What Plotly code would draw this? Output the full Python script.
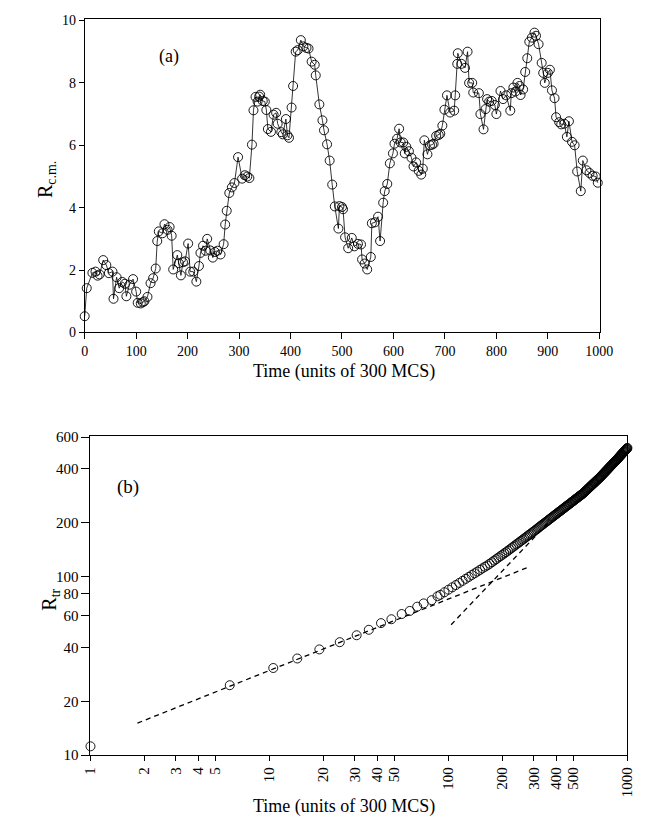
import plotly.graph_objects as go

# ---------------- Panel (a): centre-of-mass distance vs time ----------------
ta = [0, 4, 15, 21, 25, 29, 36, 42, 47, 54,
      56, 62, 67, 73, 78, 81, 87, 94, 100, 103,
      109, 113, 116, 122, 128, 133, 138, 141, 144, 151,
      155, 161, 165, 169, 172, 180, 183, 187, 191, 195,
      201, 205, 211, 217, 222, 225, 230, 235, 238, 244,
      249, 253, 258, 264, 270, 273, 276, 281, 286, 291,
      298, 306, 311, 316, 320, 325, 328, 332, 336, 339,
      341, 346, 350, 353, 356, 362, 367, 372, 375, 382,
      385, 391, 394, 397, 402, 405, 410, 414, 420, 425,
      431, 435, 441, 447, 449, 456, 462, 465, 471, 476,
      481, 486, 493, 495, 500, 502, 506, 512, 519, 524,
      531, 537, 539, 544, 549, 556, 558, 564, 570, 574,
      580, 583, 588, 593, 599, 602, 607, 611, 614, 619,
      622, 625, 630, 635, 639, 644, 649, 654, 657, 660,
      666, 671, 675, 678, 683, 688, 691, 695, 699, 704,
      710, 718, 720, 724, 725, 732, 739, 744, 747, 753,
      755, 766, 769, 775, 779, 782, 786, 791, 797, 800,
      808, 813, 819, 827, 829, 833, 837, 841, 845, 847,
      852, 856, 860, 864, 869, 874, 877, 882, 888, 891,
      894, 900, 904, 908, 913, 916, 922, 926, 932, 937,
      941, 947, 952, 957, 964, 968, 975, 981, 987, 993,
      997]
ra = [0.52, 1.42, 1.91, 1.95, 1.82, 1.86, 2.32, 2.16, 1.90, 1.95,
      1.08, 1.77, 1.42, 1.62, 1.56, 1.16, 1.53, 1.71, 1.31, 0.95,
      0.93, 0.97, 1.00, 1.14, 1.58, 1.74, 2.05, 2.93, 3.24, 3.18,
      3.47, 3.29, 3.38, 3.10, 2.02, 2.48, 2.22, 1.83, 2.25, 2.28,
      2.85, 1.95, 1.95, 1.63, 2.13, 2.55, 2.78, 2.62, 3.00, 2.63,
      2.40, 2.58, 2.62, 2.50, 2.83, 3.46, 3.90, 4.47, 4.65, 4.79,
      5.62, 4.93, 5.04, 5.00, 4.95, 6.02, 7.12, 7.55, 7.40, 7.56,
      7.62, 7.42, 7.40, 7.13, 6.52, 6.43, 6.98, 7.04, 6.69, 6.42,
      6.35, 6.84, 6.32, 6.24, 7.21, 7.90, 9.00, 9.05, 9.37, 9.17,
      9.12, 9.10, 8.68, 8.58, 8.24, 7.31, 6.80, 6.48, 6.03, 5.51,
      4.74, 4.04, 3.33, 4.05, 4.02, 3.95, 3.05, 2.70, 3.03, 2.76,
      2.84, 2.82, 2.34, 2.21, 2.02, 2.42, 3.50, 3.53, 3.71, 2.93,
      4.16, 4.53, 4.76, 5.42, 5.74, 6.05, 6.21, 6.53, 6.09, 6.09,
      5.74, 5.95, 5.81, 5.60, 5.32, 5.45, 5.18, 5.06, 5.25, 6.16,
      5.71, 6.00, 6.02, 6.05, 6.30, 6.33, 6.37, 6.63, 7.14, 7.60,
      7.05, 7.11, 7.60, 8.61, 8.95, 8.61, 8.48, 9.00, 8.00, 8.00,
      7.69, 7.67, 7.00, 6.51, 7.16, 7.48, 7.40, 7.42, 7.29, 7.00,
      7.74, 7.48, 7.60, 7.11, 7.67, 7.85, 7.72, 8.00, 7.90, 7.61,
      7.79, 8.35, 8.79, 9.32, 9.45, 9.61, 9.51, 9.24, 8.64, 8.32,
      8.00, 8.32, 8.42, 7.76, 7.51, 6.90, 6.74, 6.67, 6.69, 6.27,
      6.77, 6.11, 6.00, 5.16, 4.53, 5.51, 5.20, 5.11, 5.02, 5.00,
      4.80]

xa_ticks = [0, 100, 200, 300, 400, 500, 600, 700, 800, 900, 1000]
ya_ticks = [0, 2, 4, 6, 8, 10]

# ---------------- Panel (b): R_tr vs time (log-log) ----------------
tb_sparse = [1, 6, 10.5, 14.3, 19, 24.7, 30.7, 35.9, 42, 48, 54.8, 60.8,
             66.9, 72.7, 80.6, 86.9]
rb_sparse = [11.2, 24.6, 30.7, 34.7, 39, 42.8, 46.8, 50.2, 54.7, 57.5, 61.5,
             64, 67.6, 70.5, 73.5, 77.3]
tb_dense = list(range(90, 1001, 5))
rb_dense = [78.7, 81.4, 84.1, 86.7, 89.3, 91.8, 94.3, 96.8, 99.2, 101.6,
            103.9, 106.2, 108.5, 110.8, 113.0, 115.0, 117.4, 119.9, 122.3, 124.7,
            127.1, 129.5, 131.8, 134.2, 136.5, 138.9, 141.3, 143.7, 146.1, 148.5,
            150.9, 153.2, 155.5, 157.9, 160.2, 162.5, 164.8, 167.1, 169.4, 171.6,
            173.9, 176.1, 178.3, 180.6, 182.8, 185.3, 187.5, 189.8, 192.0, 194.3,
            196.5, 198.7, 200.9, 203.1, 205.3, 207.5, 209.7, 211.9, 214.1, 216.2,
            218.4, 220.6, 222.7, 224.8, 227.0, 229.1, 231.2, 233.3, 235.4, 237.5,
            239.6, 241.7, 243.8, 245.9, 247.9, 250.0, 252.1, 254.1, 256.2, 258.2,
            260.3, 262.3, 264.4, 266.4, 268.5, 270.5, 272.5, 274.5, 276.5, 278.5,
            280.5, 282.5, 284.5, 286.5, 288.5, 290.4, 292.8, 295.3, 297.7, 300.2,
            302.6, 305.0, 307.5, 309.9, 312.3, 314.8, 317.2, 319.6, 322.1, 324.6,
            326.9, 329.4, 331.8, 334.2, 336.6, 339.0, 341.4, 343.9, 346.3, 348.7,
            351.1, 353.5, 355.9, 358.6, 361.2, 363.9, 366.6, 369.3, 371.9, 374.6,
            377.3, 379.9, 382.6, 385.3, 388.0, 390.6, 393.3, 396.0, 398.6, 401.3,
            404.1, 406.8, 409.5, 412.2, 414.9, 417.6, 420.3, 423.0, 425.6, 428.3,
            431.0, 433.7, 436.4, 439.2, 442.1, 444.9, 447.7, 450.5, 453.4, 456.2,
            459.0, 461.9, 464.7, 467.5, 470.4, 473.2, 476.1, 478.9, 481.8, 484.6,
            487.5, 490.3, 493.2, 496.0, 498.9, 501.7, 504.6, 507.4, 510.3, 513.2,
            516.1, 518.9, 521.8]

fit1_t = [1.83, 277]
fit1_r = [15.1, 112]
fit2_t = [103.5, 374]
fit2_r = [53.6, 206.6]

xb_ticks = [1, 2, 3, 4, 5, 10, 20, 30, 40, 50, 100, 200, 300, 400, 500, 1000]
yb_ticks = [10, 20, 40, 60, 80, 100, 200, 400, 600]

pairs = list(zip(tb_dense, rb_dense))
tb = tb_sparse + [p[0] for p in pairs]
rb = rb_sparse + [p[1] for p in pairs]

W, H = 645, 820
FONT = "Liberation Serif"

def px(x):
    return min(1.0, max(0.0, x / W))

def py(y):
    return min(1.0, max(0.0, 1 - y / H))

fig = go.Figure()

fig.add_trace(go.Scatter(
    x=ta, y=ra, mode="lines+markers", xaxis="x", yaxis="y",
    line=dict(color="black", width=0.8),
    marker=dict(symbol="circle-open", size=9, color="black", line=dict(width=0.9)),
    showlegend=False, cliponaxis=False))

fig.add_trace(go.Scatter(
    x=fit1_t, y=fit1_r, mode="lines", xaxis="x2", yaxis="y2",
    line=dict(color="black", width=1.3, dash="5px,4px"), showlegend=False))
fig.add_trace(go.Scatter(
    x=fit2_t, y=fit2_r, mode="lines", xaxis="x2", yaxis="y2",
    line=dict(color="black", width=1.3, dash="5px,4px"), showlegend=False))
fig.add_trace(go.Scatter(
    x=tb, y=rb, mode="markers", xaxis="x2", yaxis="y2",
    marker=dict(symbol="circle-open", size=9, color="black", line=dict(width=0.9)),
    showlegend=False, cliponaxis=False))

def axis_common(size):
    return dict(showgrid=False, zeroline=False, showline=True, linecolor="black",
                linewidth=1, mirror=True, ticks="outside", tickcolor="black",
                tickfont=dict(family=FONT, size=size, color="black"))

fig.update_layout(
    width=W, height=H, margin=dict(l=0, r=0, t=0, b=0),
    paper_bgcolor="white", plot_bgcolor="white",
    font=dict(family=FONT, color="black"),
    xaxis=dict(domain=[px(71), px(604)], anchor="y", range=[0, 1002],
               tickvals=xa_ticks, ticklen=6, **axis_common(14)),
    yaxis=dict(domain=[py(324), py(5)], anchor="x", range=[0, 10.05],
               tickvals=ya_ticks, ticklen=5, **axis_common(14)),
    xaxis2=dict(domain=[px(77), px(632)], anchor="y2", type="log", range=[0, 3],
                tickvals=xb_ticks, ticktext=[str(v) for v in xb_ticks],
                tickangle=-90, ticklen=5, **axis_common(15)),
    yaxis2=dict(domain=[py(754), py(429)], anchor="x2", type="log",
                range=[1, 2.786], tickvals=yb_ticks,
                ticktext=[str(v) for v in yb_ticks], ticklen=8, **axis_common(15)),
)

ann = [
    dict(text="(a)", x=px(158), y=py(43), size=18),
    dict(text="(b)", x=px(116), y=py(481), size=19),
    dict(text="Time (units of 300 MCS)", x=px(339), y=py(364), size=18),
    dict(text="Time (units of 300 MCS)", x=px(339), y=py(806), size=18),
]
for a in ann:
    fig.add_annotation(xref="paper", yref="paper", showarrow=False,
                       text=a["text"], x=a["x"], y=a["y"],
                       font=dict(family=FONT, size=a["size"], color="black"),
                       xanchor="center", yanchor="middle")

fig.add_annotation(text="R<sub>c.m.</sub>", xref="paper", yref="paper",
                   x=px(31), y=py(168), showarrow=False, textangle=-90,
                   font=dict(family=FONT, size=20, color="black"),
                   xanchor="center", yanchor="middle")
fig.add_annotation(text="R<sub>tr</sub>", xref="paper", yref="paper",
                   x=px(36), y=py(596), showarrow=False, textangle=-90,
                   font=dict(family=FONT, size=20, color="black"),
                   xanchor="center", yanchor="middle")

fig.write_html("out.html")
